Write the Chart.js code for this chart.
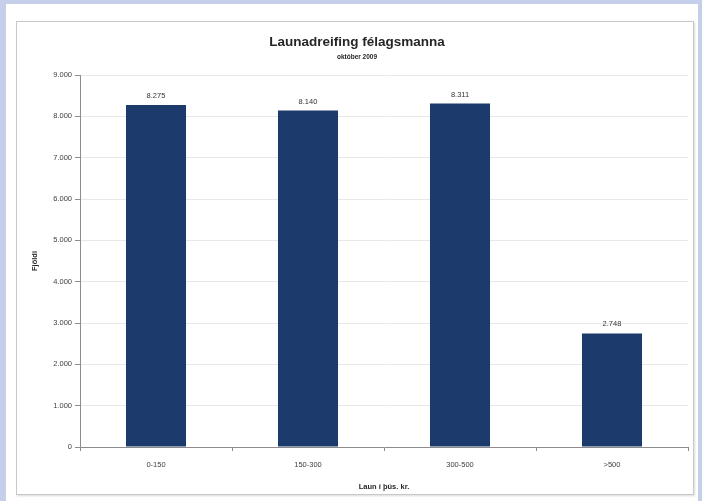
<!DOCTYPE html>
<html>
<head>
<meta charset="utf-8">
<script src="https://cdn.jsdelivr.net/npm/chart.js@4.4.0/dist/chart.umd.min.js"></script>
<style>
  html, body { margin: 0; padding: 0; }
  body { width: 702px; height: 501px; background: #c6cfea; position: relative; overflow: hidden; }
  #panel { position: absolute; left: 6px; top: 4px; width: 692px; height: 497px; background: #ffffff; }
  #frame { position: absolute; left: 16px; top: 21px; width: 676px; height: 472px; border: 1px solid #c8c8c8; box-shadow: 1px 1px 2px rgba(0,0,0,0.15); background: #ffffff; }
  #wrap { position: absolute; left: 0; top: 0; width: 702px; height: 501px; }
</style>
</head>
<body>
<div id="panel"></div>
<div id="frame"></div>
<div id="wrap"><canvas id="c" width="702" height="501"></canvas></div>
<script>
const chartTitle = 'Launadreifing félagsmanna';
const chartSubtitle = 'október 2009';
const categories = ['0-150', '150-300', '300-500', '>500'];
const members = [8275, 8140, 8311, 2748];
const yTickLabels = ['0', '1.000', '2.000', '3.000', '4.000', '5.000', '6.000', '7.000', '8.000', '9.000'];
const yAxisTitle = 'Fjöldi';
const xAxisTitle = 'Laun í þús. kr.';

const FONT = "'Liberation Sans', Arial, sans-serif";
const fmt = v => String(v).replace(/\B(?=(\d{3})+(?!\d))/g, '.');

const textPlugin = {
  id: 'texts',
  afterDatasetsDraw(chart) {
    const ctx = chart.ctx;
    ctx.save();
    ctx.fillStyle = '#262626';
    ctx.textAlign = 'center';
    ctx.textBaseline = 'middle';
    ctx.font = 'bold 13.5px ' + FONT;
    const cx = (chart.chartArea.left + chart.chartArea.right) / 2 - 27;
    ctx.fillText(chartTitle, cx, 42);
    ctx.font = 'bold 6.5px ' + FONT;
    ctx.fillText(chartSubtitle, cx, 57);
    // value labels
    ctx.font = '7.5px ' + FONT;
    ctx.fillStyle = '#333333';
    const meta = chart.getDatasetMeta(0);
    meta.data.forEach((bar, i) => {
      ctx.fillText(fmt(chart.data.datasets[0].data[i]), bar.x, bar.y - 9);
    });
    ctx.restore();
  }
};

new Chart(document.getElementById('c'), {
  type: 'bar',
  data: {
    labels: categories,
    datasets: [{
      data: members,
      backgroundColor: '#1c3b6c',
      borderColor: '#2a4a7c',
      borderWidth: 0,
      barPercentage: 0.395,
      categoryPercentage: 1.0
    }]
  },
  options: {
    responsive: false,
    animation: false,
    devicePixelRatio: 1,
    layout: { padding: { left: 0, top: 75, right: 14, bottom: 0 } },
    plugins: {
      legend: { display: false },
      tooltip: { enabled: false },
      title: { display: false }
    },
    scales: {
      x: {
        afterFit(scale) { scale.height = 54; },
        grid: { offset: true, drawOnChartArea: false, tickLength: 4, color: '#8c8c8c' },
        border: { color: '#8c8c8c' },
        ticks: { padding: 9, color: '#404040', font: { family: FONT, size: 7.5 }, maxRotation: 0 },
        title: { display: true, text: xAxisTitle, color: '#262626', font: { family: FONT, size: 7.5, weight: 'bold' }, padding: { top: 0, bottom: 10 } }
      },
      y: {
        min: 0,
        max: 9000,
        afterFit(scale) { scale.width = 80; },
        grid: { color: '#e8e8e8', tickLength: 5, tickColor: '#8c8c8c' },
        border: { color: '#8c8c8c' },
        ticks: {
          stepSize: 1000,
          padding: 3,
          color: '#404040',
          font: { family: FONT, size: 7.5 },
          callback: (v, i) => yTickLabels[i]
        },
        title: { display: true, text: yAxisTitle, color: '#262626', font: { family: FONT, size: 7.5, weight: 'bold' }, padding: { top: 30, bottom: 0 } }
      }
    }
  },
  plugins: [textPlugin]
});
</script>
</body>
</html>
